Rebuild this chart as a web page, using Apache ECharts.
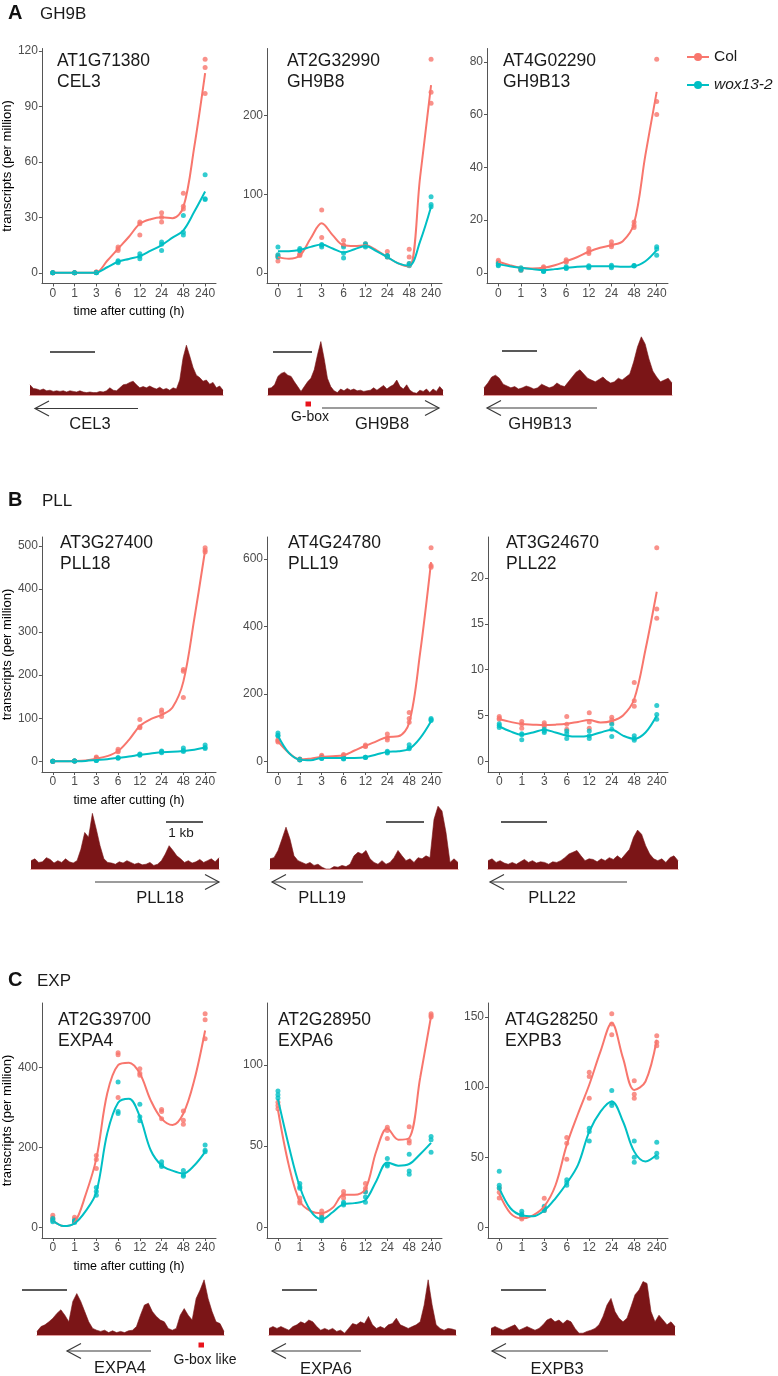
<!DOCTYPE html>
<html><head><meta charset="utf-8">
<script src="https://cdn.jsdelivr.net/npm/echarts@6.0.0/dist/echarts.min.js"></script>
<style>html,body{margin:0;padding:0;background:#fff}#c{width:778px;height:1376px}</style>
</head><body><div id="c"></div>
<script>
// ---------- DATA ----------
const timeLabels = ['0','1','3','6','12','24','48','240'];
const fitX = [1,1.5,2,2.5,3,3.5,4,4.5,5,5.5,6,6.5,7,7.5,8];

// A: GH9B
const cel3Col = [[0,0,0],[0,0,0],[0.3,0.5,0.4],[14,13,12],[27.5,26.5,20.5],[32.5,30,27.5],[43,36,34.5],[115.5,111,97]];
const cel3Wox = [[0,0,0],[0,0,0],[0,0.2,0.1],[6,6.5,5.5],[10.3,9,7.6],[16.6,15.5,12],[31,22,20.5],[53,40,39.6]];
const cel3ColFit = [0,0,0,0,0.2,6.5,13,19.5,26.5,29,30,29.5,35.5,68,108];
const cel3WoxFit = [0,0,0,0,0.2,3,6,7.5,9,12,15,19,23,33,44];

const gh9b8Col = [[15,22,20],[22,24,23],[80,45],[41,35,35],[37,35,34],[27,22,20],[30,20,12],[272,230,216]];
const gh9b8Wox = [[33,23,20],[31,29,28],[36,33,35],[33,25,19],[37,33,35],[22,20,21],[12,10,9],[97,87,84]];
const gh9b8ColFit = [20,18,22,44,63,48,35,34,35,29,20,12,8,122,239];
const gh9b8WoxFit = [27.6,27.6,29,33,36,31,26,30,34,27.6,20,12,9,40,84];

const gh9b13Col = [[4.8,4.2,3.8],[1.6,1.0,1.3],[2.3,1.9,1.6],[5.0,4.4,4.0],[9.2,8.0,7.3],[11.8,10.5,9.9],[19.3,17.2,18],[81,65,60]];
const gh9b13Wox = [[3.5,2.7,3.0],[1.9,1.0,1.5],[0.6,0.8,0.5],[2.3,1.6,1.8],[2.7,1.9,2.3],[2.9,1.9,2.4],[2.7,2.6,2.8],[9.9,9.0,6.7]];
const gh9b13ColFit = [4.2,2.9,1.9,1.6,1.9,2.9,4.4,6,8,9.5,10.5,12,18.7,44.6,68.6];
const gh9b13WoxFit = [3.3,2.5,1.9,1.4,1.0,1.4,1.9,2.3,2.5,2.5,2.5,2.3,2.5,4.4,8.6];

// B: PLL
const pll18Col = [[0,0,0],[0.5,0.5,0.5],[10,8,7],[28,24,22],[97,80,78],[119,114,104],[213,209,148],[496,490,486]];
const pll18Wox = [[0,0,0],[0.5,0.5,0.5],[3,2,2],[8,7,8],[17,15,14],[24,20,22],[31,23,25],[38,32,30]];
const pll18ColFit = [0,0,0.5,2,6,12,24,50,82,98,108,125,185,330,490];
const pll18WoxFit = [0,0,0.3,1,3,5,8,11,15,18,21,22,24,27,32];

const pll19Col = [[61,64,57],[7,5,6],[18,13,15],[20,17,15],[48,45,44],[81,69,63],[145,127,116],[633,580,575]];
const pll19Wox = [[84,77,75],[5,4,6],[10,8,9],[10,7,8],[12,11,12],[30,27,25],[49,40,37],[127,121,123]];
const pll19ColFit = [59,25,5,8,13,15,18,32,46,59,72,74,114,321,590];
const pll19WoxFit = [76,25,5,3,10,10,10,10,12,20,28,30,37,69,119];

const pll22Col = [[4.9,4.6,4.7],[4.35,4.05,3.6],[4.2,4.0,3.8],[4.9,4.05,3.5],[5.3,4.3,3.6],[4.8,4.5,4.2],[8.6,6.6,6.0],[23.3,16.6,15.6]];
const pll22Wox = [[4.1,3.9,3.7],[3.0,2.35,2.9],[3.5,3.15,3.3],[3.3,3.0,2.5],[3.3,2.8,2.5],[4.05,3.5,2.7],[2.8,2.5,2.3],[6.1,5.1,4.6]];
const pll22ColFit = [4.6,4.3,4.06,4.0,3.95,4.0,4.1,4.3,4.5,4.24,4.4,5.0,6.8,12.2,18.5];
const pll22WoxFit = [3.8,3.26,2.9,3.15,3.45,3.15,2.8,2.7,2.8,3.15,3.45,2.8,2.45,3.15,5.0];

// C: EXP
const expa4Col = [[30,24,20],[25,20,15],[180,170,147],[437,432,325],[397,386,381],[295,290,272],[291,268,258],[535,520,472]];
const expa4Wox = [[22,17,14],[17,15,12],[100,90,80],[364,290,285],[308,277,267],[164,156,152],[142,131,128],[206,193,189]];
const expa4ColFit = [17,3,12,80,172,335,406,412,385,318,272,256,285,368,493];
const expa4WoxFit = [17,3,10,40,88,235,312,322,277,193,155,142,135,155,189];

const expa6Col = [[77,75,73],[18,15,16],[10,8,7],[22,20,18],[27,24,22],[61.6,59.6,54.7],[62,53.5,52],[131.6,129.6,130.5]];
const expa6Wox = [[84,81.6,79.6],[27,25,24],[6,5,4],[15.5,14.5,13.7],[21.7,18.6,15.5],[42.4,38.7,37.7],[45,34.7,32.7],[56,54,46.3]];
const expa6ColFit = [72.4,38,16,10,8.7,12,20,20,23.6,47,61,54,55,92,130];
const expa6WoxFit = [79,50,25,10,5,9.3,14.3,14.9,16.8,28.6,40,38,39,45,52];

const expb3Col = [[28,25,21],[8,7,6],[20.7,14,12],[64,60,48.6],[110.7,107.6,92],[152.4,145,137.4],[104.5,95,92],[136.7,129.5,132]];
const expb3Wox = [[40,30,28],[11.4,8.6,9.5],[15,13,12],[34,32,30],[70.7,68.3,61.6],[97.6,88.6,86.9],[61.6,50,46.4],[60.7,52.9,50]];
const expb3ColFit = [24,10,6.4,8.6,15,30,58.8,81,101.7,125.5,145.7,120.7,98,104,133.8];
const expb3WoxFit = [28,13.6,8.6,7.9,12,20.7,31.4,44.5,68.3,82.6,89.8,75.5,54,47,51.7];

// y tick labels
const ticksCel3 = [0,30,60,90,120];
const ticksGh9b8 = [0,100,200];
const ticksGh9b13 = [0,20,40,60,80];
const ticksPll18 = [0,100,200,300,400,500];
const ticksPll19 = [0,200,400,600];
const ticksPll22 = [0,5,10,15,20];
const ticksExpa4 = [0,200,400];
const ticksExpa6 = [0,50,100];
const ticksExpb3 = [0,50,100,150];

// ChIP coverage tracks (relative signal)
const cel3Track = [17,11,10,8,10,7,8,6,7,6,7,5,7,6,5,7,5,4,5,4,4,6,5,7,12,8,7,12,17,18,21,23,17,12,14,12,15,12,10,13,9,11,8,12,10,25,62,83,65,46,33,29,23,25,18,21,12,15,8];
const gh9b8Track = [11,12,17,31,36,38,33,31,22,14,6,14,22,28,42,67,89,61,28,14,7,4,10,7,11,8,10,7,8,6,7,8,12,8,12,16,10,14,17,25,14,10,17,8,4,3,8,6,10,4,10,6,14,8];
const gh9b13Track = [12,20,30,33,28,18,15,12,14,10,12,15,13,10,12,18,15,12,14,20,16,14,22,30,38,42,35,28,25,22,26,30,24,20,22,28,25,30,35,55,80,97,85,60,40,30,22,25,28,20];
const pll18Track = [14,17,11,12,19,16,10,14,11,17,12,10,14,33,61,53,93,67,39,17,11,10,8,12,10,14,11,8,10,7,8,11,6,8,14,25,39,31,22,17,11,14,10,12,16,11,14,17,12,19];
const pll19Track = [17,19,31,50,70,50,22,14,11,8,11,6,8,3,0,0,4,3,6,4,8,22,28,25,31,17,11,8,14,8,11,19,31,22,14,17,11,19,17,22,19,83,105,97,61,11,17,11];
const pll22Track = [14,17,11,14,10,8,11,8,12,16,11,14,10,12,11,8,12,11,14,19,25,28,31,22,14,17,16,12,17,14,19,16,22,17,25,33,53,65,58,39,25,17,14,17,11,19,22,14];
const expa4Track = [6,14,17,22,28,36,42,33,22,56,69,56,39,22,11,8,6,8,4,7,4,6,4,7,8,14,33,50,53,39,31,25,22,11,8,11,33,44,33,25,61,75,92,61,39,22,19,6];
const expa6Track = [11,14,11,14,11,8,14,17,22,19,25,22,14,8,11,8,11,6,8,3,11,19,17,22,19,31,17,11,14,11,17,19,28,17,14,11,14,17,22,50,92,50,17,11,8,11,10,8];
const expb3Track = [11,14,11,8,11,14,17,8,11,14,11,8,11,17,25,28,22,25,19,25,22,11,3,3,6,8,11,17,31,50,61,39,28,22,28,47,67,75,89,86,39,22,33,25,17,22,14];

// ---------- LAYOUT ----------
const FONT = '"Liberation Sans", Arial, Helvetica, sans-serif';
const RED = '#F8766D', TEAL = '#00BFC4', TRACK = '#7b1517';
const AXC = '#555555', LBC = '#4d4d4d', TXC = '#1a1a1a';
const PH = 235;

const panels = [
  {t:['AT1G71380','CEL3'], col:cel3Col, wox:cel3Wox, cf:cel3ColFit, wf:cel3WoxFit, ticks:ticksCel3, left:40, top:48.5, width:176, tx:57, ty:61, first:true},
  {t:['AT2G32990','GH9B8'], col:gh9b8Col, wox:gh9b8Wox, cf:gh9b8ColFit, wf:gh9b8WoxFit, ticks:ticksGh9b8, left:267, top:48.5, width:175, tx:287, ty:61},
  {t:['AT4G02290','GH9B13'], col:gh9b13Col, wox:gh9b13Wox, cf:gh9b13ColFit, wf:gh9b13WoxFit, ticks:ticksGh9b13, left:487, top:48.5, width:181, tx:503, ty:61},
  {t:['AT3G27400','PLL18'], col:pll18Col, wox:pll18Wox, cf:pll18ColFit, wf:pll18WoxFit, ticks:ticksPll18, left:40, top:537, width:176, tx:60, ty:543, first:true},
  {t:['AT4G24780','PLL19'], col:pll19Col, wox:pll19Wox, cf:pll19ColFit, wf:pll19WoxFit, ticks:ticksPll19, left:267, top:537, width:175, tx:288, ty:543},
  {t:['AT3G24670','PLL22'], col:pll22Col, wox:pll22Wox, cf:pll22ColFit, wf:pll22WoxFit, ticks:ticksPll22, left:488, top:537, width:180, tx:506, ty:543},
  {t:['AT2G39700','EXPA4'], col:expa4Col, wox:expa4Wox, cf:expa4ColFit, wf:expa4WoxFit, ticks:ticksExpa4, left:40, top:1003, width:176, tx:58, ty:1020, first:true},
  {t:['AT2G28950','EXPA6'], col:expa6Col, wox:expa6Wox, cf:expa6ColFit, wf:expa6WoxFit, ticks:ticksExpa6, left:267, top:1003, width:175, tx:278, ty:1020},
  {t:['AT4G28250','EXPB3'], col:expb3Col, wox:expb3Wox, cf:expb3ColFit, wf:expb3WoxFit, ticks:ticksExpb3, left:488, top:1003, width:180, tx:505, ty:1020}
];

const tracks = [
  {d:cel3Track, x1:30, x2:223, top:335, h:60, ymax:100},
  {d:gh9b8Track, x1:268, x2:443, top:335, h:60, ymax:100},
  {d:gh9b13Track, x1:484, x2:672, top:335, h:60, ymax:100},
  {d:pll18Track, x1:31, x2:219, top:805, h:64, ymax:107},
  {d:pll19Track, x1:270, x2:458, top:805, h:64, ymax:107},
  {d:pll22Track, x1:488, x2:678, top:805, h:64, ymax:107},
  {d:expa4Track, x1:37, x2:224, top:1275, h:60, ymax:100},
  {d:expa6Track, x1:269, x2:456, top:1275, h:60, ymax:100},
  {d:expb3Track, x1:491, x2:675, top:1275, h:60, ymax:100}
];

const arrows = [
  [35,138,408.5,'L','CEL3',90,424],[322,439,408,'R','GH9B8',382,424],[487,597,408,'L','GH9B13',540,424],
  [95,219,882,'R','PLL18',160,898],[272,363,882,'L','PLL19',322,898],[490,627,882,'L','PLL22',552,898],
  [67,151,1351,'L','EXPA4',120,1368],[272,361,1351,'L','EXPA6',326,1369],[492,608,1351,'L','EXPB3',557,1369]
];
const scaleBars = [[50,95,352],[273,312,352],[502,537,351],[166,203,822],[386,424,822],[501,547,822],[22,67,1290],[282,317,1290],[501,546,1290]];

// ---------- BUILD ----------
const grid=[], xAxis=[], yAxis=[], series=[], graphic=[];
const tickPos = [1,2,3,4,5,6,7,8];

panels.forEach((p,i)=>{
  grid.push({left:p.left, top:p.top, width:p.width, height:PH});
  const all = [].concat(...p.col, ...p.wox, p.cf, p.wf);
  const ymax = Math.max(...all);
  xAxis.push({gridIndex:i, type:'value', min:0.5, max:8.5,
    axisLine:{show:true, onZero:false, lineStyle:{color:AXC, width:1}},
    axisTick:{show:true, customValues:tickPos, length:3, lineStyle:{color:AXC}},
    axisLabel:{customValues:tickPos, formatter:v=>timeLabels[Math.round(v)-1], color:LBC, fontSize:12, fontFamily:FONT, margin:4},
    splitLine:{show:false},
    name: p.first ? 'time after cutting (h)' : '', nameLocation:'middle', nameGap:22,
    nameTextStyle:{color:'#000', fontSize:12.5, fontFamily:FONT}});
  yAxis.push({gridIndex:i, type:'value', min:-0.05*ymax, max:1.05*ymax,
    axisLine:{show:true, onZero:false, lineStyle:{color:AXC, width:1}},
    axisTick:{show:true, customValues:p.ticks, length:3, lineStyle:{color:AXC}},
    axisLabel:{customValues:p.ticks, color:LBC, fontSize:12, fontFamily:FONT, margin:4},
    splitLine:{show:false},
    name: p.first ? 'transcripts (per million)' : '', nameLocation:'middle', nameGap:24,
    nameTextStyle:{color:'#000', fontSize:13, fontFamily:FONT}});
  const pts = arr => { const o=[]; arr.forEach((reps,k)=>reps.forEach(v=>o.push([k+1,v]))); return o; };
  const fit = arr => arr.map((v,k)=>[fitX[k], v]);
  series.push({name:'Col', type:'line', xAxisIndex:i, yAxisIndex:i, data:fit(p.cf), smooth:0.35, showSymbol:false, symbol:'circle', symbolSize:9, lineStyle:{color:RED, width:2}, itemStyle:{color:RED}, z:4, silent:true});
  series.push({name:'wox13-2', type:'line', xAxisIndex:i, yAxisIndex:i, data:fit(p.wf), smooth:0.35, showSymbol:false, symbol:'circle', symbolSize:9, lineStyle:{color:TEAL, width:2}, itemStyle:{color:TEAL}, z:4, silent:true});
  series.push({name:'Col', type:'scatter', xAxisIndex:i, yAxisIndex:i, data:pts(p.col), symbolSize:5, itemStyle:{color:RED}, z:3, silent:true});
  series.push({name:'wox13-2', type:'scatter', xAxisIndex:i, yAxisIndex:i, data:pts(p.wox), symbolSize:5, itemStyle:{color:TEAL}, z:3, silent:true});
  graphic.push({type:'text', x:p.tx, y:p.ty, style:{text:p.t[0], font:'17.5px '+FONT, fill:TXC, verticalAlign:'middle'}});
  graphic.push({type:'text', x:p.tx, y:p.ty+21, style:{text:p.t[1], font:'17.5px '+FONT, fill:TXC, verticalAlign:'middle'}});
});

tracks.forEach((t,j)=>{
  const gi = panels.length + j;
  grid.push({left:t.x1, top:t.top, width:t.x2-t.x1, height:t.h});
  xAxis.push({gridIndex:gi, type:'value', min:0, max:t.d.length-1, show:true,
    axisLine:{show:true, onZero:false, lineStyle:{color:'#e39a9a', width:1.2}}, axisTick:{show:false}, axisLabel:{show:false}, splitLine:{show:false}});
  yAxis.push({gridIndex:gi, type:'value', min:0, max:t.ymax, show:false, splitLine:{show:false}});
  series.push({type:'line', xAxisIndex:gi, yAxisIndex:gi, data:t.d.map((v,k)=>[k,v]), symbol:'none', silent:true,
    lineStyle:{color:TRACK, width:0.6}, areaStyle:{color:TRACK, opacity:1}, z:2});
});

const S = {stroke:'#3a3a3a', lineWidth:1.2, fill:null};
arrows.forEach(a=>{
  const [x1,x2,y,dir,label,lx,ly]=a;
  graphic.push({type:'line', shape:{x1:x1,y1:y,x2:x2,y2:y}, style:S});
  if(dir==='L') graphic.push({type:'polyline', shape:{points:[[x1+14,y-7.5],[x1,y],[x1+14,y+7.5]]}, style:S});
  else graphic.push({type:'polyline', shape:{points:[[x2-14,y-7.5],[x2,y],[x2-14,y+7.5]]}, style:S});
  graphic.push({type:'text', x:lx, y:ly, style:{text:label, font:'16.5px '+FONT, fill:TXC, align:'center', verticalAlign:'middle'}});
});
scaleBars.forEach(b=>graphic.push({type:'line', shape:{x1:b[0],y1:b[2],x2:b[1],y2:b[2]}, style:{stroke:'#222', lineWidth:1.3}}));

// motif marks and small labels
graphic.push({type:'rect', shape:{x:305.5, y:401.5, width:5.5, height:5}, style:{fill:'#e8141c'}});
graphic.push({type:'text', x:310, y:417, style:{text:'G-box', font:'14px '+FONT, fill:TXC, align:'center', verticalAlign:'middle'}});
graphic.push({type:'rect', shape:{x:198.5, y:1342.5, width:5.5, height:5}, style:{fill:'#e8141c'}});
graphic.push({type:'text', x:205, y:1360, style:{text:'G-box like', font:'14px '+FONT, fill:TXC, align:'center', verticalAlign:'middle'}});
graphic.push({type:'text', x:181, y:833, style:{text:'1 kb', font:'13.5px '+FONT, fill:TXC, align:'center', verticalAlign:'middle'}});

// section headers
[['A','GH9B',13,40],['B','PLL',500,42],['C','EXP',980,37]].forEach(h=>{
  graphic.push({type:'text', x:8, y:h[2], style:{text:h[0], font:'bold 20px '+FONT, fill:'#111', verticalAlign:'middle'}});
  graphic.push({type:'text', x:h[3], y:h[2]+1, style:{text:h[1], font:'17px '+FONT, fill:TXC, verticalAlign:'middle'}});
});

const chart = echarts.init(document.getElementById('c'), null, {renderer:'canvas'});
chart.setOption({
  animation:false,
  backgroundColor:'#fff',
  legend:{data:['Col','wox13-2'], orient:'vertical', left:681, top:44, itemWidth:22, itemHeight:10, itemGap:12,
    selectedMode:false,
    textStyle:{fontSize:15.5, color:TXC, fontFamily:FONT, rich:{i:{fontStyle:'italic', fontSize:15.5, fontFamily:FONT, color:TXC}}},
    formatter:n=> n==='wox13-2' ? '{i|wox13-2}' : n},
  grid, xAxis, yAxis, series, graphic
});
</script></body></html>
